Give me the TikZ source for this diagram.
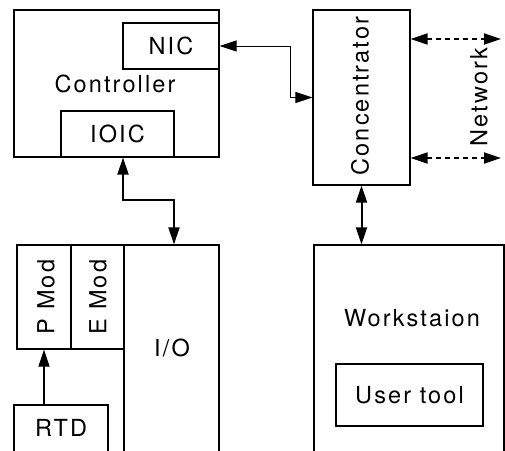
\documentclass[tikz,border=0pt]{standalone}
\usepackage{fontspec}
\setmainfont{TeX Gyre Heros}[LetterSpace=9]
\usetikzlibrary{arrows.meta,calc}
\begin{document}
\begin{tikzpicture}[x=1pt,y=-1pt,
  box/.style={draw,line width=1.2pt,inner sep=0pt,rectangle},
  lbl/.style={font=\fontsize{23.5}{26}\selectfont,inner sep=0pt},
  dbl/.style={{Triangle[length=17pt,width=11pt]}-{Triangle[length=17pt,width=11pt]}},
  single/.style={-{Triangle[length=17pt,width=11pt]}},
  thinconn/.style={line width=1pt},
  thickconn/.style={line width=2pt},
  netconn/.style={line width=1.8pt,dash pattern=on 5pt off 4pt}
]
\fill[white] (0,0) rectangle (505,450);
\useasboundingbox (0,0) rectangle (505,450);

% Controller
\node[box,minimum width=205pt,minimum height=147pt] (ctrl) at (116.5,83.5) {};
\node[lbl] (ctrltxt) at (115,84) {Controller};
\node[box,minimum width=96pt,minimum height=46pt,lbl] (nic) at (171,46) {NIC};
\node[box,minimum width=113pt,minimum height=46pt,lbl] (ioic) at (117.5,134) {IOIC};

% Concentrator
\node[box,minimum width=97pt,minimum height=175pt] (conc) at (361.5,97.5) {};
\node[lbl,rotate=90] (conctxt) at (360,96) {Concentrator};

% Workstation
\node[box,minimum width=190pt,minimum height=225pt] (ws) at (409,357.5) {};
\node[lbl] (wstxt) at (412,318) {Workstaion};
\node[box,minimum width=147pt,minimum height=62pt,lbl] (ut) at (409.5,395) {User tool};

% I/O rack
\node[box,minimum width=54pt,minimum height=104pt] (pmod) at (44,297) {};
\node[lbl,rotate=90] (pmodtxt) at (46,297) {P Mod};
\node[box,minimum width=53pt,minimum height=104pt] (emod) at (97.5,297) {};
\node[lbl,rotate=90] (emodtxt) at (98,297) {E Mod};
\node[box,minimum width=95pt,minimum height=225pt] (io) at (171.5,357.5) {};
\node[lbl] (iotxt) at (172,348) {I/O};
\node[box,minimum width=94pt,minimum height=65pt] (rtd) at (61,437.5) {};
\node[lbl] (rtdtxt) at (61,428) {RTD};

% Connectors
\coordinate (k1) at ($(nic.east)+(71,0)$);
\draw[thinconn,dbl] (nic.east) -- (k1) |- (conc.west);
\draw[thickconn,dbl] ($(ioic.south)+(5.5,0)$) -- ++(0,42) -| ($(io.north)+(2.5,0)$);
\draw[thickconn,dbl] (conc.south) -- (conc.south |- ws.north);
\draw[thinconn,line width=1.2pt,single] (rtd.north -| pmod.south) -- (pmod.south);

% Network
\coordinate (nt) at (501,39);
\coordinate (nb) at (501,158);
\draw[netconn,dbl] (conc.east |- nt) -- (nt);
\draw[netconn,dbl] (conc.east |- nb) -- (nb);
\node[lbl,rotate=90] (nettxt) at (479,97) {Network};
\end{tikzpicture}
\end{document}
